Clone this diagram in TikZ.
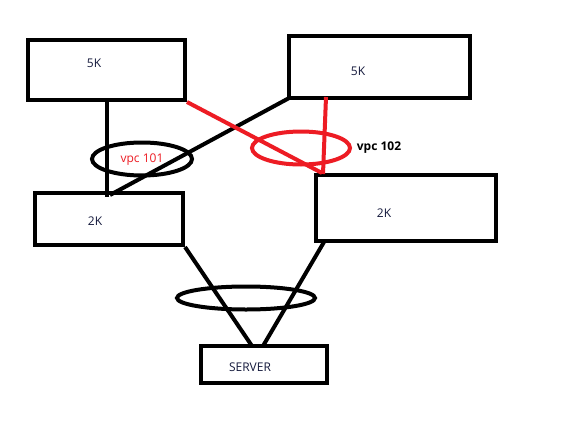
\documentclass[tikz,border=0pt]{standalone}
\usepackage{fontspec}
\setmainfont{Open Sans}
\usetikzlibrary{shapes.geometric}
\definecolor{pred}{RGB}{237,28,36}
\definecolor{ptext}{RGB}{20,25,60}
\begin{document}
\begin{tikzpicture}[x=1pt,y=-1pt,
  box/.style={draw=black,line width=4pt,inner sep=0pt,rectangle},
  ring/.style={draw,ellipse,line width=4pt,inner sep=0pt},
  wire/.style={line width=4pt},
  lbl/.style={text=ptext,font=\fontsize{12}{14}\selectfont,inner sep=0pt}]
\useasboundingbox (0,0) rectangle (572,436);
\fill[white] (0,0) rectangle (572,436);
% boxes
\node[box,minimum width=157pt,minimum height=60pt] (A) at (106.5,70) {};
\node[box,minimum width=181pt,minimum height=62pt] (B) at (379.5,67) {};
\node[box,minimum width=148pt,minimum height=52pt] (C) at (109,219) {};
\node[box,minimum width=180pt,minimum height=66pt] (D) at (406,208) {};
\node[box,minimum width=126pt,minimum height=37pt] (S) at (264,364.5) {};
% labels
\node[lbl] (tA) at (94,63) {5K};
\node[lbl] (tB) at (358,71) {5K};
\node[lbl] (tC) at (95,221) {2K};
\node[lbl] (tD) at (384,213) {2K};
\node[lbl] (tS) at (250,367) {SERVER};
% endpoints
\coordinate (a1) at (107,100);
\coordinate (c1) at (107,197);
\coordinate (c2) at (110,195);
\coordinate (b1) at (291,97);
\coordinate (b2) at (326,97);
\coordinate (dv) at (323,174);
\coordinate (dr) at (322,173);
\coordinate (d1) at (324,242);
\coordinate (s1) at (252,346);
\coordinate (s2) at (263,346);
% black links
\draw[wire] (a1) -- (c1);
\draw[wire] (b1) -- (c2);
\draw[wire] (C.south east) -- (s1);
\draw[wire] (d1) -- (s2);
% red links
\draw[wire,pred] (A.south east) -- (dr);
\draw[wire,pred] (b2) -- (dv);
% ellipses
\node[ring,draw=black,minimum width=100pt,minimum height=33pt] (e1) at (142,159) {};
\node[ring,draw=pred,minimum width=98pt,minimum height=33pt] (e2) at (301,148) {};
\node[ring,draw=black,minimum width=138pt,minimum height=23pt] (e3) at (246,298) {};
% ellipse labels
\node[text=pred,font=\fontsize{12}{14}\selectfont,inner sep=0pt] (v1) at (142,160) {vpc 101};
\node[text=black,font=\bfseries\fontsize{12}{14}\selectfont,inner sep=0pt] (v2) at (379,148) {vpc 102};
\end{tikzpicture}
\end{document}
